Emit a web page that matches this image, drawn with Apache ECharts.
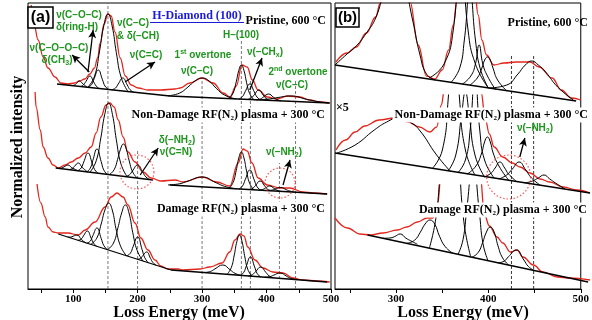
<!DOCTYPE html>
<html>
<head>
<meta charset="utf-8">
<script src="https://cdn.jsdelivr.net/npm/echarts@6/dist/echarts.min.js"></script>
<style>
html, body { margin: 0; background: #fff; }
#chart { width: 592px; height: 320px; }
</style>
</head>
<body>
<div id="chart"></div>
<script>
// axis ticks
const aTicks = [50, 100, 150, 200, 250, 300, 350, 400, 450, 500];
const aTickLabels = [100, 200, 300, 400, 500];
const bTicks = [250, 300, 350, 400, 450, 500];
const bTickLabels = [300, 400, 500];

// ---- panel (a): Pristine, 600 °C ----
const aPriRed = [[35,285],[39.5,265],[45.7,250],[53.5,233],[61,222],[72,213],[81,207],[92,206],[102,207],[110,209],[118,211],[126,216],[133,222],[138,232],[142,247],[148,266],[154,276],[159,274],[165,258],[173,232],[181,214],[190,205],[201,202],[216,200],[236,200],[258,201],[266,202],[281,207],[300,212],[317,207],[333,197],[343,193],[353,204],[362,225],[370,223],[378,210],[387,200],[401,193],[416,191],[433,194],[452,193],[467,190],[483,188],[498,187]];
const aPriBase = [[75,206],[250,194],[498,187]];
const aPriPeaks = [
  [[98,204.4],[102,205],[105,206.5],[110,209],[115,206.2],[118,204.7],[122,202.8]],
  [[112,203.5],[116,205.2],[120,208.7],[126,214],[132,207.9],[136,203.8],[140,201.5]],
  [[123,202.7],[128.6,205.4],[132.5,211.2],[139,220],[145.5,210.3],[149.4,204],[155,200.5]],
  [[122.8,202.8],[133.2,213.8],[141,239],[147.5,264],[154,276],[160.5,264],[167,237.4],[174.8,212],[185.2,198.4]],
  [[160,200.2],[165.8,202],[170,206],[177,212],[184,205],[188.2,200.4],[194,197.8]],
  [[247.2,194.2],[265,196.9],[278,202.9],[289,209],[300,212],[311,209],[322,201.7],[335,194.9],[352.8,191.1]],
  [[341.8,191.4],[348.2,197],[353,208.1],[357,219.5],[361,225],[365,219.5],[369,207.7],[373.8,196.4],[380.2,190.4]],
  [[357.2,190.9],[362.8,193.5],[367,198.5],[374,206],[381,198.1],[385.2,193],[390.8,190]],
  [[371.2,190.6],[376.8,192.3],[381,195.2],[388,200],[395,194.9],[399.2,191.6],[404.8,189.6]],
  [[383.8,190.2],[390.2,190.9],[395,192.9],[403,196],[411,192.6],[415.8,190.5],[422.2,189.1]],
  [[380.4,190.3],[399.6,190.7],[414,192.1],[438,194],[462,190.7],[476.4,188.8],[495.6,187.1]]
];

// ---- panel (a): Non-Damage RF(N2) plasma + 300 °C ----
const aNdRed = [[41,198],[42.6,183],[49,160],[53.5,143],[61,132],[69,125],[77,122],[87.6,125],[97,128],[108,132],[118.6,137],[128,143],[135.7,157],[143,173],[151,185],[157,187],[163.6,183],[170,170],[177.5,153],[185,138],[196,128],[208.5,118],[221,112],[236,109],[258,110],[270.5,108],[300,113],[323,108],[343,104],[356,127],[363.6,141],[370,139],[377.5,127],[387,112],[401,105],[421,102],[436,102],[456.6,98],[472,97],[494,96]];
const aNdBase1 = [[73,122],[224,110]];
const aNdBase2 = [[250,105],[494,96]];
const aNdPeaks = [
  [[77.6,121.6],[82.4,122],[86,123.2],[92,125],[98,122.2],[101.6,121.1],[106.4,119.4]],
  [[93.6,120.4],[98.4,121.3],[102,123.6],[108,127],[114,122.6],[117.6,120.6],[122.4,118]],
  [[107.4,119.3],[112.6,122.1],[116.5,128],[123,137],[129.5,127],[133.4,120.4],[138.6,116.8]],
  [[121.4,118.2],[126.6,121.8],[130.5,129.4],[137,141],[143.5,128.4],[147.4,120.2],[152.6,115.7]],
  [[126.2,117.8],[135.8,129.2],[143,152.2],[149,175.5],[155,187],[161,175.5],[167,150.3],[174.2,126.1],[183.8,113.2]],
  [[156.4,115.4],[163.6,120.3],[169,130.6],[173.5,140.8],[178,146],[182.5,140.8],[187,129.1],[192.4,118],[199.6,111.9]],
  [[180.8,113.4],[187.2,115.1],[192,119],[200,125],[208,117.8],[212.8,113.1],[219.2,110.4]],
  [[247.2,105.1],[264.8,106.2],[278,108.9],[300,113],[322,107.2],[335.2,103.6],[352.8,101.2]],
  [[341.8,101.6],[348.2,107.6],[353,119.6],[357,132],[361,138],[365,132],[369,119.1],[373.8,106.7],[380.2,100.2]],
  [[357.2,101],[362.8,104.1],[367,110.4],[374,120],[381,109.9],[385.2,103.3],[390.8,99.8]],
  [[373.2,100.4],[378.8,101.8],[383,104.6],[390,109],[397,104.2],[401.2,101],[406.8,99.2]],
  [[388.2,99.9],[393.8,100.5],[398,101.9],[405,104],[412,101.4],[416.2,99.8],[421.8,98.7]],
  [[400.4,99.5],[407.6,99.8],[413,100.9],[422,102.5],[431,100.2],[436.4,98.9],[443.6,98]]
];

// ---- panel (a): Damage RF(N2) plasma + 300 °C ----
const aDmRed = [[44,106],[50,87],[56.6,73],[61,63],[69,58],[77,57],[92,57],[108,55],[118.6,60],[134,68],[149.6,83],[159,93],[168,97],[177.5,93],[185,85],[196,67],[205,52],[216,40],[227,30],[236,24],[247,21],[263,21],[270.5,20],[297,21],[312,23],[331,27],[343,38],[351,50],[359,56],[365,54],[371,43],[382,30],[394.5,22],[410,18],[425.6,17],[441,12],[456.6,10],[478,9],[498,8]];
const aDmBase = [[77,56],[252,20],[494,8]];
const aDmPeaks = [
  [[91.6,53],[96.4,52.9],[100,53.8],[106,55],[112,51.3],[115.6,48.9],[120.4,47]],
  [[107.6,49.7],[112.4,50.8],[116,54.1],[122,59],[128,51.7],[131.6,46.9],[136.4,43.8]],
  [[121.4,46.9],[126.6,48.9],[130.5,54.2],[137,62],[143.5,51.6],[147.4,44.7],[152.6,40.5]],
  [[127.4,45.7],[136.6,51.8],[143.5,66],[149.3,80],[155,87],[160.7,80],[166.5,61.2],[173.4,44.2],[182.6,34.3]],
  [[153.4,40.3],[162.6,47],[169.5,62.2],[175.3,77],[181,85],[186.7,77],[192.5,57.4],[199.4,39.4],[208.6,28.9]],
  [[183.2,34.2],[188.8,36.8],[193,43.3],[200,53],[207,40.4],[211.2,32.2],[216.8,27.2]],
  [[199.6,30.8],[204.4,31.5],[208,34.2],[214,38],[220,31.7],[223.6,27.6],[228.4,24.9]],
  [[303.2,17.5],[312.8,18.5],[320,21.1],[332,25],[344,19.9],[351.2,16.6],[360.8,14.6]],
  [[338.8,15.7],[345.2,22.2],[350,35.1],[354,48.5],[358,55],[362,48.5],[366,34.3],[370.8,20.9],[377.2,13.8]],
  [[359.4,14.7],[364.6,17.6],[368.5,23.7],[375,33],[381.5,23.1],[385.4,16.6],[390.6,13.1]],
  [[371.8,14],[378.2,15.4],[383,18.3],[391,23],[399,17.6],[403.8,14.2],[410.2,12.2]],
  [[397,12.8],[405,13.3],[411,14.8],[421,17],[431,13.8],[437,11.7],[445,10.4]]
];

// ---- panel (b): x5 view ----
const bPriRed = [[235,228],[247,237],[257,243],[268,257],[278,273],[283,287],[290,300],[310,300],[315,289],[324,245],[333,214],[342,211],[350,220],[357,240],[362,265],[366,290],[370,300],[385,300],[389,275],[393,250],[398,235],[406,225],[417,227],[430,228],[445,228],[455,223],[469,212],[479,200],[490,192],[500,190]];
const bPriBase = [[234,225],[495,189]];
const bPriPeaks = [
  [[234,225],[247,236],[257,244],[268,257],[278,272],[288,300],[299,320],[310,300],[318,270],[326,235],[333,216],[342,210]],
  [[336,212],[352,226],[362,260],[370,340],[378,260],[386,226],[400,202]],
  [[360,208],[369,222],[374,250],[380,300],[386,250],[391,222],[400,202]],
  [[372,206],[381,214],[386,226],[390,245],[394,226],[399,214],[408,200]],
  [[380,205],[388,212],[393,222],[396,230],[399,233],[402,230],[405,222],[410,210],[420,199]],
  [[400,202],[420,205],[432,216],[440,225],[447,229],[454,225],[462,218],[475,203],[492,190]]
];
const bNdRed = [[235,140],[245,150],[255,158],[265,164],[280,170],[296,172],[310,168],[322,163],[333,158],[340,163],[345,185],[348,200],[386,200],[391,170],[395,156],[400,143],[409,133],[419,127],[427,123],[437.5,117],[448,111],[458,108],[472,103],[486.5,100],[500,97]];
const bNdBase = [[234,137],[500,97]];
const bNdPeaks = [
  [[236,137],[255,145],[275,160],[288,168],[300,172],[312,168],[322,160],[340,135],[355,118]],
  [[336,122],[346,140],[352,190],[358,280],[364,190],[370,140],[380,115]],
  [[352,119],[360,135],[366,175],[370,198],[374,175],[380,135],[390,113]],
  [[362,117],[370,130],[375,160],[380,215],[385,160],[390,130],[400,112]],
  [[372,116],[381,124],[387,137],[390,148],[393,153],[396,148],[399,137],[405,124],[415,110]],
  [[390,113],[397,117],[401,122],[406,128],[411,122],[415,116],[424,108]],
  [[405,111],[413,115],[419,121],[426,128],[433,120],[439,112],[448,105]],
  [[432,107],[440,109],[446,112],[452,115],[458,111],[464,107],[474,101]]
];
const bDmRed = [[234,72],[247,62],[260,56],[271,55],[284,57],[299,60],[309,63],[320,68],[330,72],[336,72],[341,85],[345,120],[385,120],[390,75],[395,64],[403,53],[409,47],[417,38],[424,40],[430,33],[441,25],[451,18],[466,13],[479,12],[500,10]];
const bDmBase = [[268,55],[498,8]];
const bDmPeaks = [
  [[284,51.7],[291,52],[296,53.3],[302,56],[308,51.8],[313,49.2],[320,45.7]],
  [[309,46.7],[317,49.8],[323,57.8],[328,66],[333,70],[338,66],[343,53.8],[349,43.3],[357,36.8]],
  [[332.4,41.9],[339.6,74.4],[345,139.3],[354,237],[363,135.6],[368.4,68.5],[375.6,33]],
  [[362.4,35.7],[367.6,50.6],[371.5,81.3],[378,128],[384.5,78.7],[388.4,46.3],[393.6,29.4]],
  [[376.8,32.8],[383.2,37.3],[388,47.5],[392,58],[396,63],[400,58],[404,44.2],[408.8,32.1],[415.2,25]],
  [[403.8,27.2],[410.2,28.7],[415,33.3],[423,40],[431,30],[435.8,23.5],[442.2,19.4]]
];

// guide lines, arrows and rings (meV, intensity)
const aDashes = [[154,287],[200,140],[300,210],[361,250],[375,210],[420,127],[445,210]];
const bDashes = [[425,235],[449,235]];
const aArrows = [[[123,218],[131,260]],[[125,218],[98.5,235]],[[180.6,208],[227,228]],[[374,200],[393,232]],[[204,115],[232,142]],[[425.6,105],[436.4,130]]];
const bArrows = [[[434,133],[439.5,152]]];
const aRings = [[199,118],[421,107]];
const bRings = [[422,113]];
const aRingSize = [34, 30];
const bRingSize = [44];

const RED = '#e3261c';
const GREEN = '#1e961e';
const SERIF = 'Liberation Serif';
const SANS = 'Liberation Sans';

const series = [];
function addLine(data, g, style, smooth, mono, z) {
  series.push({
    type: 'line', xAxisIndex: g, yAxisIndex: g, data: data,
    symbol: 'none', smooth: smooth, smoothMonotone: mono, silent: true, z: z || 2,
    lineStyle: style
  });
}
function addSpectrum(red, bases, peaks, g) {
  addLine(red, g, { color: RED, width: 1.3 }, 0.4, 'x', 2);
  peaks.forEach(p => addLine(p, g, { color: '#000', width: 1 }, 0.5, null, 3));
  bases.forEach(b => addLine(b, g, { color: '#000', width: 1.3 }, false, null, 3));
}

addSpectrum(aPriRed, [aPriBase], aPriPeaks, 0);
addSpectrum(aNdRed, [aNdBase1, aNdBase2], aNdPeaks, 0);
addSpectrum(aDmRed, [aDmBase], aDmPeaks, 0);
addSpectrum(bPriRed, [bPriBase], bPriPeaks, 1);
addSpectrum(bNdRed, [bNdBase], bNdPeaks, 2);
addSpectrum(bDmRed, [bDmBase], bDmPeaks, 3);

aDashes.forEach(d => addLine([[d[0], 1], [d[0], d[1]]], 0, { color: '#555', width: 0.8, type: [3, 2] }, false, null, 1));
bDashes.forEach(d => addLine([[d[0], 1], [d[0], d[1]]], 1, { color: '#222', width: 0.9, type: [3, 2] }, false, null, 1));

function addArrows(list, g) {
  series.push({
    type: 'line', xAxisIndex: g, yAxisIndex: g, data: [], silent: true,
    markLine: {
      silent: true, animation: false, symbol: ['none', 'arrow'], symbolSize: [6, 8],
      label: { show: false }, lineStyle: { color: '#000', width: 1.3, type: 'solid' },
      data: list.map(a => [{ coord: a[0] }, { coord: a[1] }])
    }
  });
}
addArrows(aArrows, 0);
addArrows(bArrows, 1);

function addRings(list, sizes, g) {
  series.push({
    type: 'scatter', xAxisIndex: g, yAxisIndex: g, silent: true, z: 4,
    data: list, symbol: 'circle',
    symbolSize: (v, p) => sizes[p.dataIndex],
    itemStyle: { color: 'rgba(0,0,0,0)', borderColor: '#ff3030', borderWidth: 1.2, borderType: [1.5, 2] }
  });
}
addRings(aRings, aRingSize, 0);
addRings(bRings, bRingSize, 1);

function axisX(g, min, ticks, labels, show) {
  return {
    type: 'value', gridIndex: g, min: min, max: 500, show: show,
    splitLine: { show: false },
    axisLine: { show: true, lineStyle: { color: '#000', width: 1 } },
    axisTick: { show: true, customValues: ticks, length: 4, lineStyle: { color: '#000' } },
    axisLabel: { customValues: labels, color: '#000', fontFamily: SERIF, fontWeight: 'bold', fontSize: 11, margin: 5 }
  };
}
function axisY(g, max) {
  return { type: 'value', gridIndex: g, min: 1, max: max, show: false, splitLine: { show: false } };
}

const txts = [];
function txt(x, y, text, o) {
  o = o || {};
  txts.push({
    type: 'text', x: x, y: y, z: 100,
    style: Object.assign({
      text: text, fill: o.fill || GREEN,
      fontFamily: o.family || SANS, fontWeight: 'bold', fontSize: o.size || 10,
      textAlign: o.align || 'center', align: o.align || 'center',
      textVerticalAlign: 'middle', verticalAlign: 'middle', lineHeight: 13,
      rich: {
        s: { fontSize: 7, lineHeight: 7, verticalAlign: 'bottom', fill: o.fill || GREEN, fontFamily: o.family || SANS, fontWeight: 'bold' },
        u: { fontSize: 7, lineHeight: 7, verticalAlign: 'top', fill: o.fill || GREEN, fontFamily: o.family || SANS, fontWeight: 'bold' }
      }
    }, o.extra || {})
  });
}
const lab = { fill: '#000', family: SERIF, size: 12, align: 'right' };
const labW = Object.assign({}, lab, { extra: { backgroundColor: '#fff', padding: [1, 2] } });

txt(79, 15, 'ν(C–O–C)');
txt(77, 27, 'δ(ring-H)');
txt(59, 48, 'ν(C–O–O–C)');
txt(57, 60, 'δ(CH{s|3})');
txt(133, 23, 'ν(C–C)');
txt(138, 36, '& δ(–CH)');
txt(146, 55, 'ν(C=C)');
txt(203, 55, '1{u|st} overtone');
txt(197, 71, 'ν(C–C)');
txt(241, 35, 'H–(100)');
txt(265, 52, 'ν(–CH{s|x})');
txt(298, 72, '2{u|nd} overtone');
txt(292, 85, 'ν(C–C)');
txt(177, 140, 'δ(–NH{s|2})');
txt(176, 152, 'ν(C=N)');
txt(284, 152, 'ν(–NH{s|2})');
txt(535, 128, 'ν(–NH{s|2})');

txt(326, 21, 'Pristine, 600 °C', lab);
txt(327, 115, 'Non-Damage RF(N{s|2}) plasma + 300 °C', labW);
txt(327, 209, 'Damage RF(N{s|2}) plasma + 300 °C', labW);
txt(588, 23, 'Pristine, 600 °C', lab);
txt(590, 115, 'Non-Damage RF(N{s|2}) plasma + 300 °C', labW);
txt(589, 210, 'Damage RF(N{s|2}) plasma + 300 °C', labW);
txt(336, 108, '×5', { fill: '#000', family: SERIF, size: 12, align: 'left' });
txt(197, 16, 'H-Diamond (100)', { fill: '#1a1ad8', family: SERIF, size: 12 });
txt(179, 313, 'Loss Energy (meV)', { fill: '#000', family: SERIF, size: 16 });
txt(463, 313, 'Loss Energy (meV)', { fill: '#000', family: SERIF, size: 16 });

const graphics = txts.concat([
  { type: 'line', z: 100, shape: { x1: 150, y1: 22.5, x2: 244, y2: 22.5 }, style: { stroke: '#1a1ad8', lineWidth: 1 } },
  { type: 'text', z: 100, x: 18, y: 147, rotation: Math.PI / 2,
    style: { text: 'Normalized intensity', fill: '#000', fontFamily: SERIF, fontWeight: 'bold', fontSize: 16,
      textAlign: 'center', align: 'center', textVerticalAlign: 'middle', verticalAlign: 'middle' } },
  { type: 'rect', z: 99, shape: { x: 28, y: 7, width: 25, height: 21 }, style: { fill: '#fff', stroke: '#000', lineWidth: 1.5 } },
  { type: 'text', z: 100, x: 40.5, y: 17.5, style: { text: '(a)', fill: '#000', fontFamily: SANS, fontWeight: 'bold', fontSize: 16, textAlign: 'center', align: 'center', textVerticalAlign: 'middle', verticalAlign: 'middle' } },
  { type: 'rect', z: 99, shape: { x: 336, y: 8, width: 23, height: 19 }, style: { fill: '#fff', stroke: '#000', lineWidth: 1.5 } },
  { type: 'text', z: 100, x: 347.5, y: 17.5, style: { text: '(b)', fill: '#000', fontFamily: SANS, fontWeight: 'bold', fontSize: 15, textAlign: 'center', align: 'center', textVerticalAlign: 'middle', verticalAlign: 'middle' } }
]);

const chart = echarts.init(document.getElementById('chart'));
chart.setOption({
  animation: false,
  backgroundColor: '#fff',
  grid: [
    { left: 28, right: 261, top: 3, bottom: 31, show: true, borderColor: '#000', borderWidth: 1 },
    { left: 335, right: 2, top: 3, bottom: 31, show: true, borderColor: '#000', borderWidth: 1 },
    { left: 335, right: 2, top: 95, bottom: 31 },
    { left: 335, right: 2, top: 185, bottom: 31 }
  ],
  xAxis: [
    axisX(0, 30, aTicks, aTickLabels, true),
    axisX(1, 234, bTicks, bTickLabels, true),
    axisX(2, 234, [], [], false),
    axisX(3, 234, [], [], false)
  ],
  yAxis: [axisY(0, 287), axisY(1, 287), axisY(2, 195), axisY(3, 105)],
  series: series,
  graphic: graphics
});
</script>
</body>
</html>
